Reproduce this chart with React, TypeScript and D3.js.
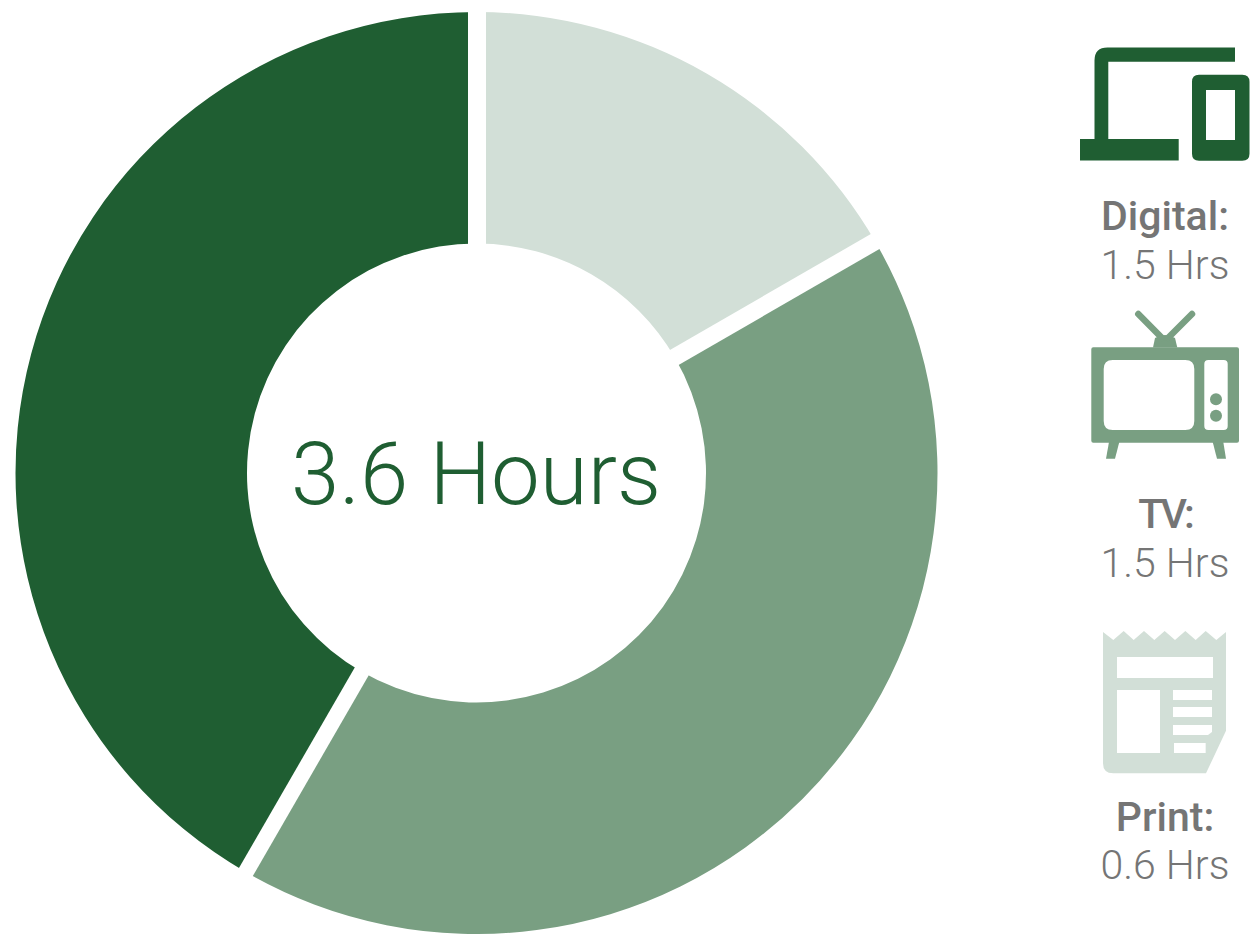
import React from "react";
import * as d3 from "d3";

// Daily media time, in hours, clockwise from twelve o'clock.
const categories = ["Print", "TV", "Digital"];
const hours = [0.6, 1.5, 1.5];
const sliceColors = ["#d2dfd7", "#799f82", "#1f5e32"];
const totalLabel = "3.6 Hours";
const legendNames = ["Digital:", "TV:", "Print:"];
const legendValues = ["1.5 Hrs", "1.5 Hrs", "0.6 Hrs"];
const legendBaselines = [230, 528, 831];
const legendValueBaselines = [279, 577, 879];
const legendNameTracking = [0, -3, 0];
// White gap drawn at the start of each slice: its width and its sideways nudge.
const gapWidths = [18, 17.3, 16];
const gapNudges = [0.5, -1.15, 0.2];

const DARK = sliceColors[2];
const MID = sliceColors[1];
const LIGHT = sliceColors[0];

function DigitalIcon() {
  return (
    <g fill={DARK}>
      <path d="M1235 47.5H1107.5Q1094.5 47.5 1094.5 60.5V139H1080V160.5H1178.7V139H1108.3V61.7H1235Z" />
      <path
        fillRule="evenodd"
        d="M1199 74.7H1242.3Q1249.5 74.7 1249.5 81.7V153.7Q1249.5 160.7 1242.3 160.7H1199Q1192 160.7 1192 153.7V81.7Q1192 74.7 1199 74.7ZM1206 90V140H1235V90Z"
      />
    </g>
  );
}

function TvIcon() {
  return (
    <g fill={MID}>
      <path
        fillRule="evenodd"
        d="M1093.3 347.3H1237Q1239 347.3 1239 349.3V440.7Q1239 442.7 1237 442.7H1093.3Q1091.3 442.7 1091.3 440.7V349.3Q1091.3 347.3 1093.3 347.3ZM1112.7 360Q1103.7 360 1103.7 369V421Q1103.7 430 1112.7 430H1185.3Q1194.3 430 1194.3 421V369Q1194.3 360 1185.3 360ZM1208.3 360Q1204.3 360 1204.3 364V426Q1204.3 430 1208.3 430H1223.7Q1227.7 430 1227.7 426V364Q1227.7 360 1223.7 360Z"
      />
      <circle cx={1216} cy={399.3} r={6} />
      <circle cx={1216} cy={415.7} r={6} />
      <path d="M1109 442H1119.3L1115 458.7H1106Z" />
      <path d="M1212.7 442H1223.3L1226 458.7H1217Z" />
      <path d="M1153 347.5L1155 338Q1165 332 1175 338L1177.3 347.5Z" />
      <path d="M1138.3 314L1162 338M1192 314L1168 338" stroke={MID} strokeWidth={6.5} strokeLinecap="round" fill="none" />
    </g>
  );
}

function PrintIcon() {
  return (
    <g transform="translate(1060 610) scale(0.33333)" fill={LIGHT}>
      <path
        fillRule="evenodd"
        d="M129 66L160 90L191 63L221 90L252 63L283 90L314 63L345 90L376 63L407 90L437 63L469 90L498 66V362L438 490H160Q129 490 129 460ZM171 141V204H459V141ZM171 240V429H300V240ZM339 240V270H456V240ZM339 291V321H456V291ZM339 345V375H444L456 366V345ZM342 399V429H437V399Z"
      />
    </g>
  );
}

const legendIcons = [<DigitalIcon key="digital" />, <TvIcon key="tv" />, <PrintIcon key="print" />];

export default function App() {
  const cx = 476.5;
  const cy = 473;
  const innerRadius = 229.5;
  const outerRadius = 461;
  const slices = d3
    .pie<number>()
    .sort(null)
    .value((d) => d)(hours);
  const arc = d3
    .arc<d3.PieArcDatum<number>>()
    .innerRadius(innerRadius)
    .outerRadius(outerRadius);

  return (
    <svg
      width={1251}
      height={934}
      viewBox="0 0 1251 934"
      style={{ position: "absolute", left: 0, top: 0, display: "block", background: "#fff" }}
    >
      <g transform={`translate(${cx} ${cy})`}>
        {slices.map((s, i) => (
          <path key={categories[i]} d={arc(s) ?? ""} fill={sliceColors[i]} />
        ))}
        {slices.map((s, i) => {
          const dx = Math.sin(s.startAngle);
          const dy = -Math.cos(s.startAngle);
          const nudgeX = Math.cos(s.startAngle) * gapNudges[i];
          const nudgeY = Math.sin(s.startAngle) * gapNudges[i];
          return (
            <line
              key={categories[i]}
              x1={dx * (innerRadius - 8) + nudgeX}
              y1={dy * (innerRadius - 8) + nudgeY}
              x2={dx * (outerRadius + 8) + nudgeX}
              y2={dy * (outerRadius + 8) + nudgeY}
              stroke="#fff"
              strokeWidth={gapWidths[i]}
            />
          );
        })}
        <text
          textAnchor="middle"
          y={30.5}
          x={-0.5}
          fontFamily="Roboto"
          fontWeight={300}
          fontSize={87}
          fill={DARK}
        >
          {totalLabel}
        </text>
      </g>
      {legendIcons}
      {legendNames.map((name, i) => (
        <g key={name} fontFamily="Roboto" textAnchor="middle" fontSize={41} fill="#757575">
          <text x={1165} y={legendBaselines[i]} fontWeight={500} letterSpacing={legendNameTracking[i]}>
            {name}
          </text>
          <text x={1165} y={legendValueBaselines[i]} fontWeight={300}>
            {legendValues[i]}
          </text>
        </g>
      ))}
    </svg>
  );
}
